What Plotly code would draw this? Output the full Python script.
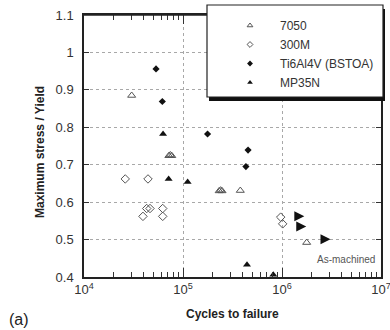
import plotly.graph_objects as go

# ---- data ----
al7050_N = [30300, 72000, 74500, 77000, 232000, 240000, 248000, 379000, 1775000]
al7050_S = [0.885, 0.724, 0.726, 0.724, 0.630, 0.632, 0.630, 0.631, 0.492]

s300M_N = [26100, 44300, 43000, 46400, 39400, 62400, 62400, 970000, 1016000]
s300M_S = [0.662, 0.662, 0.583, 0.583, 0.562, 0.583, 0.562, 0.560, 0.542]

ti_N = [53400, 61800, 177000, 454000, 432000]
ti_S = [0.956, 0.869, 0.782, 0.739, 0.695]

mp_N = [62900, 71600, 111400, 443000, 817000]
mp_S = [0.782, 0.662, 0.654, 0.433, 0.406]

runout_N = [1680000, 1758000, 3090000]
runout_S = [0.562, 0.535, 0.501]

series_names = ["7050", "300M", "Ti6Al4V (BSTOA)", "MP35N"]
x_tickvals = [1e4, 1e5, 1e6, 1e7]
x_ticktext = ["10<sup>4</sup>", "10<sup>5</sup>", "10<sup>6</sup>", "10<sup>7</sup>"]
minor_vals = [k * 10 ** d for d in (4, 5, 6) for k in range(2, 10)]

FONT = "Liberation Sans, Arial, sans-serif"
GREY = "#555555"
BLACK = "#111111"

styles = [
    dict(symbol="triangle-up-open", color=GREY, size=7, line=dict(width=1, color=GREY)),
    dict(symbol="diamond-open", color=GREY, size=6.5, line=dict(width=1, color=GREY)),
    dict(symbol="diamond", color=BLACK, size=5.5),
    dict(symbol="triangle-up", color=BLACK, size=7),
]
datasets = [(al7050_N, al7050_S), (s300M_N, s300M_S), (ti_N, ti_S), (mp_N, mp_S)]

fig = go.Figure()
for name, (xs, ys), st in zip(series_names, datasets, styles):
    fig.add_trace(go.Scatter(x=xs, y=ys, mode="markers", name=name, marker=st,
                             showlegend=False, cliponaxis=False))
fig.add_trace(go.Scatter(x=runout_N, y=runout_S, mode="markers", name="runout",
                         marker=dict(symbol="arrow-right", size=10, color=BLACK),
                         showlegend=False, cliponaxis=False))
# legend-only entries (smaller symbols, as in the reference legend)
for name, st in zip(series_names, styles):
    lst = dict(st)
    lst["size"] = max(4.5, st["size"] - 2)
    fig.add_trace(go.Scatter(x=[None], y=[None], mode="markers", name=name, marker=lst))

W, H = 390, 330
L, R, T, B = 84, 9, 15, 53
pw, ph = W - L - R, H - T - B

def px(xp):
    return (xp - L) / pw

def py(yp):
    return (H - B - yp) / ph

# top frame line (partly hidden by the legend box, as in the reference)
fig.add_shape(type="line", xref="paper", yref="paper", layer="above",
              x0=0, x1=1, y0=1, y1=1, line=dict(width=1.5, color="#222222"))
# legend box with shadow
fig.add_shape(type="rect", xref="paper", yref="paper", layer="above",
              x0=px(209), x1=px(385), y0=py(101), y1=py(9),
              fillcolor="#111111", line=dict(width=0))
fig.add_shape(type="rect", xref="paper", yref="paper", layer="above",
              x0=px(207), x1=px(383), y0=py(97), y1=py(5),
              fillcolor="white", line=dict(width=1.2, color="#222222"))

fig.update_layout(
    width=W, height=H, autosize=False,
    margin=dict(l=L, r=R, t=T, b=B, autoexpand=False),
    paper_bgcolor="white", plot_bgcolor="white",
    font=dict(family=FONT, size=13, color="#333333"),
    legend=dict(x=px(220), y=py(11), xanchor="left", yanchor="top",
                bgcolor="rgba(0,0,0,0)", borderwidth=0, itemwidth=50,
                font=dict(family=FONT, size=12, color="#333333")),
    xaxis=dict(type="log", range=[4, 7], tickvals=x_tickvals, ticktext=x_ticktext,
               ticks="inside", ticklen=9, tickcolor="#333", showline=True,
               linecolor="#222", linewidth=1.5, mirror="allticks",
               showgrid=True, gridcolor="#a8a8a8", griddash="dot", gridwidth=1,
               minor=dict(tickvals=minor_vals, ticks="inside", ticklen=5,
                          tickcolor="#333", showgrid=False),
               zeroline=False, ticklabeloverflow="allow",
               tickfont=dict(size=13, color="#333")),
    yaxis=dict(range=[0.4, 1.1], tick0=0.4, dtick=0.1, ticks="inside", ticklen=5,
               tickcolor="#333", showline=True, linecolor="#222", linewidth=1.5,
               mirror="allticks", showgrid=True, gridcolor="#a8a8a8", griddash="dot",
               gridwidth=1, zeroline=False, ticklabelstandoff=6,
               ticklabeloverflow="allow", tickfont=dict(size=13, color="#333")),
)

fig.add_annotation(text="<b>Cycles to failure</b>", xref="paper", yref="paper",
                   x=0.5, y=py(314), xanchor="center", yanchor="middle", showarrow=False,
                   font=dict(family=FONT, size=12, color="#222"))
fig.add_annotation(text="<b>Maximum stress / Yield</b>", xref="paper", yref="paper",
                   x=px(40), y=py(152), xanchor="center", yanchor="middle", showarrow=False,
                   textangle=-90, font=dict(family=FONT, size=12, color="#222"))
fig.add_annotation(text="(a)", xref="paper", yref="paper", x=px(7), y=py(320),
                   xanchor="left", yanchor="middle", showarrow=False,
                   font=dict(family=FONT, size=16, color="#222"))
fig.add_annotation(text="As-machined", xref="paper", yref="paper", x=px(346), y=py(259),
                   xanchor="center", yanchor="middle", showarrow=False,
                   font=dict(family=FONT, size=10, color="#555"))

# remove the default 8px page margin so the 390x330 figure fills the window
fig.write_html("out.html", config={"displayModeBar": False},
               post_script="document.body.style.margin='0px';")
